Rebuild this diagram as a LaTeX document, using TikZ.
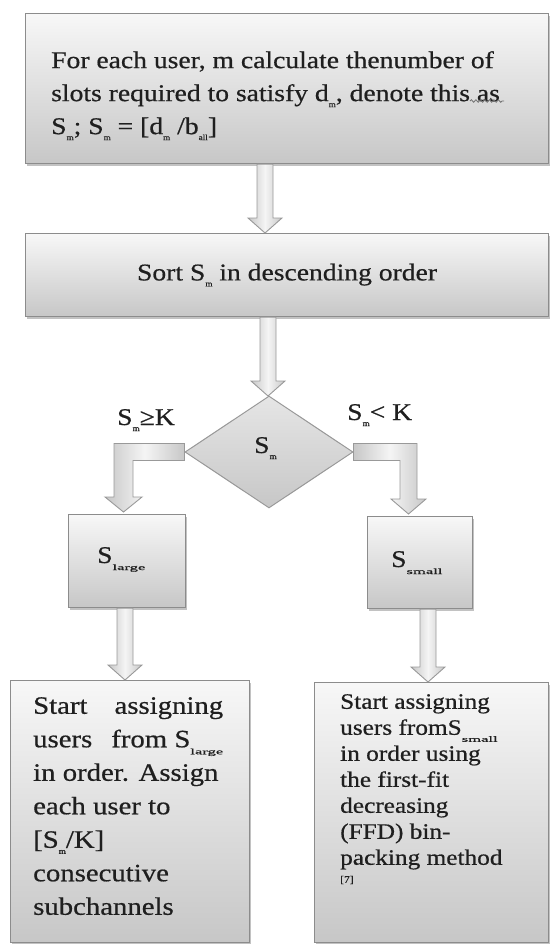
\documentclass[tikz,border=0pt]{standalone}
\usepackage{graphicx}
\usepackage{fontspec}
\setmainfont[FakeStretch=1.15,FakeBold=0.6]{Liberation Serif}
\usetikzlibrary{shapes.geometric,shadows,calc,decorations.pathmorphing}

\newcommand{\lsub}[1]{\raisebox{-6pt}{\fontsize{8}{8}\selectfont #1}}
\newcommand{\wsub}[1]{\raisebox{-7pt}{\scalebox{1.8}[1]{\fontsize{8}{8}\selectfont #1}}}

\newcommand{\vblock}[2]{%
  \path[blockarrow] let \p1=(#1), \p2=(#2) in
    (\x1-8pt,\y1) -- (\x1-8pt,\y2+15pt) -- (\x1-17pt,\y2+15pt) -- (\x1,\y2)
    -- (\x1+17pt,\y2+15pt) -- (\x1+8pt,\y2+15pt) -- (\x1+8pt,\y1) -- cycle;}

\begin{document}
\begin{tikzpicture}[x=1pt,y=-1pt,
  box/.style={draw=black!45, line width=1.1pt, top color=black!3, bottom color=black!22,
    drop shadow={shadow xshift=1.5pt, shadow yshift=-2.5pt, fill=black!40, opacity=0.6},
    inner sep=0pt, anchor=north west},
  dia/.style={diamond, draw=black!40, line width=1pt, top color=black!10, bottom color=black!22,
    inner sep=0pt},
  blockarrow/.style={draw=black!40, line width=0.9pt, left color=black!22, right color=black!22,
    middle color=black!4},
  txt/.style={inner sep=0pt, align=left, text=black!88},
  big/.style={font=\fontsize{24}{33}\selectfont},
  mid/.style={font=\fontsize{22}{26}\selectfont},
  squiggle/.style={draw=black!55, line width=0.8pt, decorate,
    decoration={snake, amplitude=1.3pt, segment length=4.5pt}},
]
\useasboundingbox (0,0) rectangle (550,944);

% boxes
\node[box, minimum width=523pt, minimum height=150pt] (top) at (25,13) {};
\node[box, minimum width=523pt, minimum height=83pt] (sort) at (25,233) {};
\node[box, minimum width=117pt, minimum height=93pt] (slarge) at (68,514) {};
\node[box, minimum width=105pt, minimum height=92pt] (ssmall) at (367,516) {};
\node[box, minimum width=239pt, minimum height=262pt] (bl) at (10,680) {};
\node[box, minimum width=234pt, minimum height=260pt] (br) at (314,682) {};

% arrow axes
\coordinate (ax1) at (265,0);
\coordinate (ax2) at (268,0);
\coordinate (ax3) at (125,0);
\coordinate (ax4) at (428,0);
\coordinate (elx1) at (123.5,0);
\coordinate (elx2) at (408.5,0);
\coordinate (diatop) at (269,396);

% straight block arrows
\vblock{top.south -| ax1}{sort.north -| ax1}
\vblock{sort.south -| ax2}{diatop}

% diamond
\node[dia, minimum width=168pt, minimum height=112pt] (dia) at (269,452) {};

% elbow arrows
\path[blockarrow] let \p1=(dia.west), \p2=(slarge.north), \p3=(elx1) in
  (\x1,\y1+8.5pt) -- (\x3-9.5pt,\y1+8.5pt) -- (\x3-9.5pt,\y2+17pt) -- (\x3-18.5pt,\y2+17pt)
  -- (\x3,\y2+2pt) -- (\x3+18.5pt,\y2+17pt) -- (\x3+9.5pt,\y2+17pt) -- (\x3+9.5pt,\y1-8.5pt)
  -- (\x1,\y1-8.5pt) -- cycle;
\path[blockarrow] let \p1=(dia.east), \p2=(ssmall.north), \p3=(elx2) in
  (\x1,\y1+8.5pt) -- (\x3+8.5pt,\y1+8.5pt) -- (\x3+8.5pt,\y2+17pt) -- (\x3+17.5pt,\y2+17pt)
  -- (\x3,\y2+2pt) -- (\x3-17.5pt,\y2+17pt) -- (\x3-8.5pt,\y2+17pt) -- (\x3-8.5pt,\y1-8.5pt)
  -- (\x1,\y1-8.5pt) -- cycle;

\vblock{slarge.south -| ax3}{bl.north -| ax3}
\vblock{ssmall.south -| ax4}{br.north -| ax4}

% texts
\node[txt, big, anchor=north west] (ttop) at (51,51)
  {For each user, m calculate thenumber of\\
   slots required to satisfy d\lsub{m}, denote this as\\
   S\lsub{m}; S\lsub{m} = {[}d\lsub{m} /b\lsub{all}{]}};
\coordinate (sq1) at (470,101);
\coordinate (sq2) at (504,101);
\path[squiggle] (sq1) -- (sq2);
\node[txt, big, anchor=center] (tsort) at (sort.center) {Sort S\lsub{m} in descending order};
\node[txt, big, anchor=base west] (tdia) at (254,453) {S\lsub{m}};
\node[txt, big, anchor=base west] (lblL) at (117,425) {S\lsub{m}≥K};
\node[txt, big, anchor=base west] (lblR) at (347,420) {S\lsub{m}< K};
\node[txt, big, anchor=base west] (tlarge) at (97,563) {S\wsub{large}};
\node[txt, big, anchor=base west] (tsmall) at (391,567) {S\wsub{small}};

\node[txt, anchor=north west, font=\fontsize{25}{33.5}\selectfont] (tbl) at (33,697)
  {\makebox[190pt][l]{Start\hfill assigning}\\
   \makebox[190pt][l]{users\hfill from S\wsub{large}}\\
   in order. Assign\\
   each user to\\
   {[}S\lsub{m}/K{]}\\
   consecutive\\
   subchannels};
\node[txt, mid, anchor=north west] (tbr) at (340,694)
  {Start assigning\\
   users fromS\wsub{small}\\
   in order using\\
   the first-fit\\
   decreasing\\
   (FFD) bin-\\
   packing method\\[-8pt]
   {\fontsize{10}{12}\selectfont {[}7{]}}};
\end{tikzpicture}
\end{document}
